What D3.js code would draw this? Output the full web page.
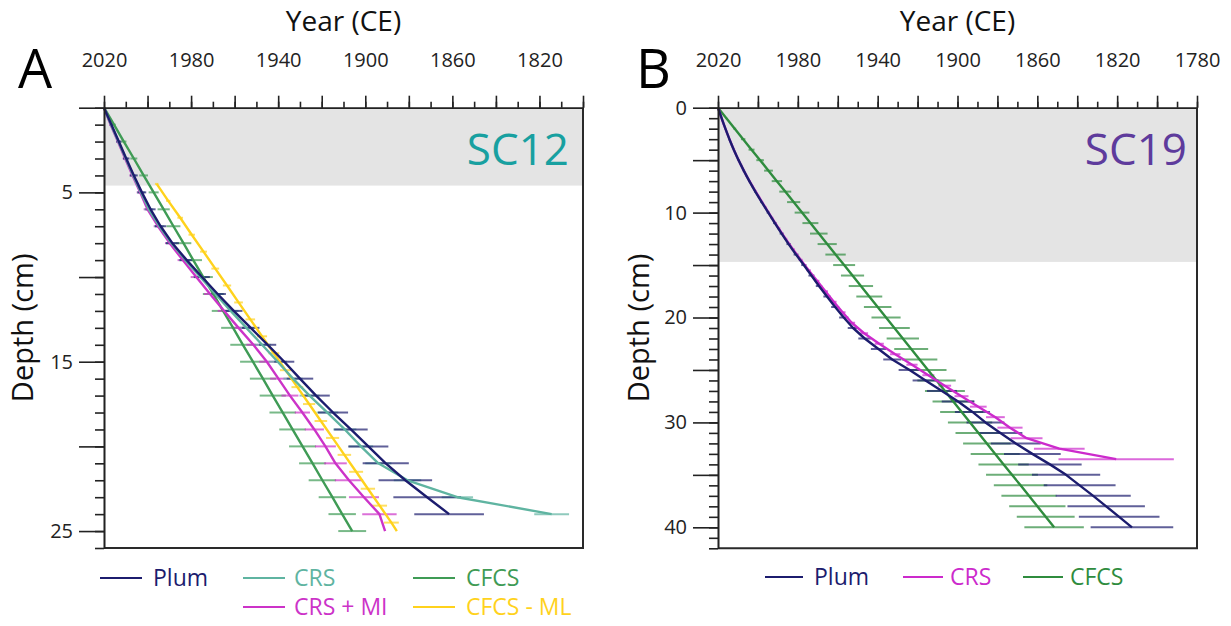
<!DOCTYPE html>
<html><head><meta charset="utf-8">
<script src="https://cdn.jsdelivr.net/npm/d3@7"></script>
<style>body{margin:0;background:#fff;} svg{display:block;font-family:'Open Sans',sans-serif;}</style>
</head><body><svg id="chart" width="1231" height="626"></svg>
<script>
// ---------- Panel A (SC12) data ----------
const plumDepthA = [0,1,2,3,4,5,6,7,8,9,10,11,12,13,14,15,16,17,18,19,20,21,22,23,24];
const plumYearA  = [2020,2016.6,2013.2,2009.8,2006.3,2002.6,1998.6,1994.0,1988.6,1982.0,1975.0,1967.8,1960.4,1952.6,1944.8,1937.2,1930.0,1922.6,1914.8,1906.6,1898.6,1890.6,1881.6,1871.6,1861.5];
const plumErrA   = [0,0.8,1.2,1.5,1.8,2.0,2.3,2.6,3.0,3.3,3.6,3.8,4.0,4.0,3.9,4.6,6.1,6.3,6.9,7.7,9.2,10.6,12.3,15.5,16.0];

const crsDepthA = [0,1,2,3,4,5,6,7,8,9,10,11,12,13,14,15,16,17,18,19,20,21,22,23,24];
const crsYearA  = [2020,2016.8,2013.4,2010.0,2006.6,2003.0,1999.4,1994.6,1989.0,1982.6,1975.8,1968.8,1961.8,1954.6,1947.4,1940.2,1933.2,1925.6,1917.4,1909.4,1902.0,1894.0,1880.6,1857.7,1814.4];
const crsErrA   = [0,0.7,1.0,1.2,1.5,1.8,2.0,2.3,2.6,2.9,3.2,3.4,3.6,3.8,4.0,4.2,4.4,4.6,5.0,5.3,5.6,6.0,6.3,7.2,8.0];

const crsmiDepthA = [0,1,2,3,4,5,6,7,8,9,10,11,12,13,14,15,16,17,18,19,20,21,22,23,24,25];
const crsmiYearA  = [2020,2017.0,2013.6,2010.3,2006.9,2003.4,2000.0,1995.2,1989.8,1983.8,1977.6,1971.3,1964.8,1958.2,1951.4,1945.2,1939.9,1934.6,1928.9,1923.4,1918.3,1913.7,1907.5,1900.6,1893.5,1890.9];
const crsmiErrA   = [0,0.6,0.9,1.1,1.4,1.6,1.8,2.0,2.2,2.4,2.6,2.8,3.0,3.1,3.2,3.5,3.8,3.9,3.5,4.4,4.8,5.2,6.5,6.9,7.9,0];

const cfcsDepthA = [0,1,2,3,4,5,6,7,8,9,10,11,12,13,14,15,16,17,18,19,20,21,22,23,24,25];
const cfcsYearA  = [2020,2015.4,2010.9,2006.3,2001.8,1997.2,1992.6,1988.1,1983.5,1979.0,1974.4,1969.8,1965.3,1960.7,1956.2,1951.6,1947.0,1942.5,1937.9,1933.4,1928.8,1924.2,1919.7,1915.1,1910.6,1906.0];
const cfcsErrA   = [0,0.8,1.2,1.6,2.0,2.3,2.8,3.2,3.6,4.0,4.4,4.8,5.2,5.5,5.8,5.9,6.0,6.0,6.1,6.1,6.2,6.2,6.3,6.3,6.3,6.4];

const cfcsmlDepthA = [4.5,5.5,6.5,7.5,8.5,9.5,10.5,11.5,12.5,13.5,14.5,15.5,16.5,17.5,18.5,19.5,20.5,21.5,22.5,23.5,24.5,25];
const cfcsmlYearA  = [1995.8,1990.5,1985.0,1979.7,1974.3,1968.9,1963.5,1958.2,1952.8,1947.4,1942.0,1936.6,1931.2,1925.8,1920.4,1915.0,1909.6,1904.2,1898.8,1893.4,1888.0,1885.5];
const cfcsmlErrA   = [0.8,1.0,1.3,1.5,1.6,1.8,1.9,2.0,2.2,2.3,2.5,2.6,2.7,2.8,2.9,3.0,3.1,3.2,3.3,3.4,3.4,0];

// ---------- Panel B (SC19) data ----------
const plumDepthB = [0,1,2,3,4,5,6,7,8,9,10,11,12,13,14,15,16,17,18,19,20,21,22,23,24,25,26,27,28,29,30,31,32,33,34,35,36,37,38,39,40];
const plumYearB  = [2020,2018.2,2016.3,2014.3,2012.1,2009.7,2007.1,2004.3,2001.3,1998.1,1994.8,1991.5,1988.1,1984.6,1980.9,1977.0,1973.2,1969.4,1965.4,1961.3,1957.0,1952.3,1946.5,1939.6,1932.7,1924.0,1916.0,1907.8,1899.7,1892.5,1886.0,1878.5,1870.8,1862.5,1853.7,1845.6,1838.8,1832.0,1825.5,1819.0,1812.6];
const plumErrB   = [0,0.3,0.3,0.4,0.4,0.5,0.5,0.6,0.6,0.7,0.8,0.9,1.0,1.1,1.2,1.3,1.5,1.6,1.8,2.0,2.3,2.7,3.2,3.8,4.5,5.5,6.5,7.5,8.2,8.8,9.5,11.0,12.5,14.2,15.9,17.1,18.0,18.8,19.4,20.2,20.7];

const crsDepthB = [0,0.5,1.5,2.5,3.5,4.5,5.5,6.5,7.5,8.5,9.5,10.5,11.5,12.5,13.5,14.5,15.5,16.5,17.5,18.5,19.5,20.5,21.5,22.5,23.5,24.5,25.5,26.5,27.5,28.5,29.5,30.5,31.5,32.5,33.5];
const crsYearB  = [2020,2019.1,2017.3,2015.3,2013.2,2010.9,2008.4,2005.7,2002.7,1999.5,1996.3,1993.0,1989.6,1986.1,1982.4,1978.6,1974.6,1970.4,1966.2,1962.0,1957.6,1953.0,1946.8,1939.2,1931.2,1922.8,1914.6,1906.4,1898.0,1889.6,1881.0,1873.7,1865.4,1849.0,1820.5];
const crsErrB   = [0,0.2,0.3,0.3,0.4,0.4,0.5,0.5,0.6,0.6,0.7,0.7,0.8,0.8,0.9,1.0,1.1,1.2,1.3,1.4,1.5,1.7,2.0,2.3,2.6,2.8,3.0,3.2,3.5,4.2,4.7,6.3,8.0,12.7,28.9];

const cfcsDepthB = [0,1,2,3,4,5,6,7,8,9,10,11,12,13,14,15,16,17,18,19,20,21,22,23,24,25,26,27,28,29,30,31,32,33,34,35,36,37,38,39,40];
const cfcsYearB  = [2020,2015.8,2011.6,2007.4,2003.2,1998.9,1994.7,1990.5,1986.3,1982.1,1977.9,1973.7,1969.5,1965.3,1961.1,1956.8,1952.6,1948.4,1944.2,1940.0,1935.8,1931.6,1927.4,1923.2,1919.0,1914.8,1910.5,1906.3,1902.1,1897.9,1893.7,1889.5,1885.3,1881.1,1876.9,1872.7,1868.4,1864.2,1860.0,1855.8,1851.6];
const cfcsErrB   = [0,0.4,0.7,1.1,1.5,1.9,2.2,2.6,3.0,3.3,3.7,4.0,4.4,4.8,5.1,5.5,5.8,6.1,6.5,6.9,7.3,7.7,8.1,8.5,8.9,9.3,9.6,10.0,10.4,10.8,11.1,11.5,11.9,12.3,12.6,13.0,13.4,13.8,14.1,14.5,14.9];

// ---------- tick labels ----------
const yearLabelsA  = [2020,1980,1940,1900,1860,1820];
const yearLabelsB  = [2020,1980,1940,1900,1860,1820,1780];
const depthLabelsA = [5,15,25];
const depthLabelsB = [0,10,20,30,40];

const C = {plum:'#1c1c6e', crsA:'#5fb4a1', cfcsA:'#3f9b55', crsmi:'#cc33c8', cfcsml:'#ffd21c', crsB:'#cc2acc', cfcsB:'#2f8c3e'};

const svg = d3.select('#chart');

function zip(d, yv, e){ return d.map((v,i)=>({d:v, y:yv[i], e:e[i]})); }

function panel(cfg){
  const g = svg.append('g');
  const x = d3.scaleLinear().domain(cfg.xDomain).range(cfg.xRange);
  const y = d3.scaleLinear().domain(cfg.yDomain).range(cfg.yRange);
  const [x0,x1] = cfg.xRange, [y0,y1] = cfg.yRange;

  g.append('rect').attr('x',x0).attr('y',y(0)).attr('width',x1-x0).attr('height',y(cfg.band)-y(0)).attr('fill','#e4e4e4');

  g.append('text').attr('x',cfg.scX).attr('y',165).attr('text-anchor','end')
    .attr('font-size',44).attr('fill',cfg.scColor).text(cfg.scLabel);

  cfg.series.forEach(s=>{
    g.append('g').selectAll('line').data(s.data.filter(p=>p.e>0)).join('line')
      .attr('x1',p=>x(p.y+p.e)).attr('x2',p=>x(p.y-p.e))
      .attr('y1',p=>y(p.d)).attr('y2',p=>y(p.d))
      .attr('stroke',s.color).attr('stroke-width',2).attr('stroke-opacity',0.7);
  });
  cfg.series.forEach(s=>{
    g.append('path').datum(s.data)
      .attr('d', d3.line().x(p=>x(p.y)).y(p=>y(p.d)))
      .attr('fill','none').attr('stroke',s.color).attr('stroke-width',2.4).attr('stroke-linejoin','round');
  });

  // frame right/bottom
  g.append('path').attr('d',`M${x0},${y1}H${x1}V${y0}`).attr('fill','none').attr('stroke','#2a2a2a').attr('stroke-width',2);

  const end = cfg.xDomain[1];
  const minorX = d3.range(2020, end-1, -10), majorX = d3.range(2020, end-1, -20);
  const styleAxis = sel => { sel.selectAll('path,line').attr('stroke','#222').attr('stroke-width',1.6);
    sel.selectAll('text').attr('fill','#222').attr('font-size',20).attr('font-family',"'Open Sans',sans-serif"); };
  g.append('g').attr('transform',`translate(0,${y0})`)
    .call(d3.axisTop(x).tickValues(minorX).tickSize(6).tickSizeOuter(0).tickFormat(''))
    .call(styleAxis);
  g.append('g').attr('transform',`translate(0,${y0})`)
    .call(d3.axisTop(x).tickValues(majorX).tickSize(12).tickSizeOuter(0).tickPadding(29)
      .tickFormat(v=>cfg.xLabels.includes(v)?String(v):''))
    .call(styleAxis);
  const ymax = cfg.yDomain[1];
  g.append('g').attr('transform',`translate(${x0},0)`)
    .call(d3.axisLeft(y).tickValues(d3.range(0,ymax+1,1)).tickSize(9).tickSizeOuter(0).tickFormat(''))
    .call(styleAxis);
  g.append('g').attr('transform',`translate(${x0},0)`)
    .call(d3.axisLeft(y).tickValues(d3.range(0,ymax+1,5)).tickSize(25).tickSizeOuter(0).tickPadding(6)
      .tickFormat(v=>cfg.yLabels.includes(v)?String(v):''))
    .call(styleAxis);

  g.append('text').attr('x',(x0+x1)/2).attr('y',31).attr('text-anchor','middle').attr('font-size',28).attr('fill','#111').text('Year (CE)');
  g.append('text').attr('transform',`translate(${cfg.depthX},${(y0+y1)/2}) rotate(-90)`).attr('text-anchor','middle')
    .attr('font-size',29).attr('fill','#111').text('Depth (cm)');
  g.append('text').attr('x',cfg.letterX).attr('y',88).attr('font-size',54).attr('fill','#000').text(cfg.letter);

  cfg.legend.forEach(l=>{
    g.append('line').attr('x1',l.x).attr('x2',l.x+l.w).attr('y1',l.y).attr('y2',l.y).attr('stroke',l.color).attr('stroke-width',2.2);
    g.append('text').attr('x',l.x+l.w+l.gap).attr('y',l.y).attr('dy','0.35em').attr('font-size',23).attr('fill',l.color).text(l.label);
  });
}

panel({
  xDomain:[2020,1800], xRange:[104,583], yDomain:[0,26], yRange:[107.7,548], band:4.6,
  xLabels:yearLabelsA, yLabels:depthLabelsA, letter:'A', letterX:18, depthX:33,
  scLabel:'SC12', scColor:'#18a0a0', scX:569,
  series:[
    {color:C.cfcsA, data:zip(cfcsDepthA,cfcsYearA,cfcsErrA)},
    {color:C.cfcsml, data:zip(cfcsmlDepthA,cfcsmlYearA,cfcsmlErrA)},
    {color:C.crsmi, data:zip(crsmiDepthA,crsmiYearA,crsmiErrA)},
    {color:C.crsA, data:zip(crsDepthA,crsYearA,crsErrA)},
    {color:C.plum, data:zip(plumDepthA,plumYearA,plumErrA)}
  ],
  legend:[
    {x:100,y:578,w:42,gap:11,color:C.plum,label:'Plum'},
    {x:243,y:578,w:42,gap:9,color:C.crsA,label:'CRS'},
    {x:413,y:578,w:42,gap:11,color:C.cfcsA,label:'CFCS'},
    {x:243,y:607,w:42,gap:9,color:C.crsmi,label:'CRS + MI'},
    {x:413,y:607,w:42,gap:11,color:C.cfcsml,label:'CFCS - ML'}
  ]
});

panel({
  xDomain:[2020,1780], xRange:[718,1197], yDomain:[0,42], yRange:[107.7,548.3], band:14.7,
  xLabels:yearLabelsB, yLabels:depthLabelsB, letter:'B', letterX:636, depthX:649,
  scLabel:'SC19', scColor:'#5e3b9c', scX:1187,
  series:[
    {color:C.cfcsB, data:zip(cfcsDepthB,cfcsYearB,cfcsErrB)},
    {color:C.crsB, data:zip(crsDepthB,crsYearB,crsErrB)},
    {color:C.plum, data:zip(plumDepthB,plumYearB,plumErrB)}
  ],
  legend:[
    {x:765,y:577,w:38,gap:11,color:C.plum,label:'Plum'},
    {x:903,y:577,w:40,gap:7,color:C.crsB,label:'CRS'},
    {x:1023,y:577,w:40,gap:7,color:C.cfcsB,label:'CFCS'}
  ]
});
</script></body></html>
